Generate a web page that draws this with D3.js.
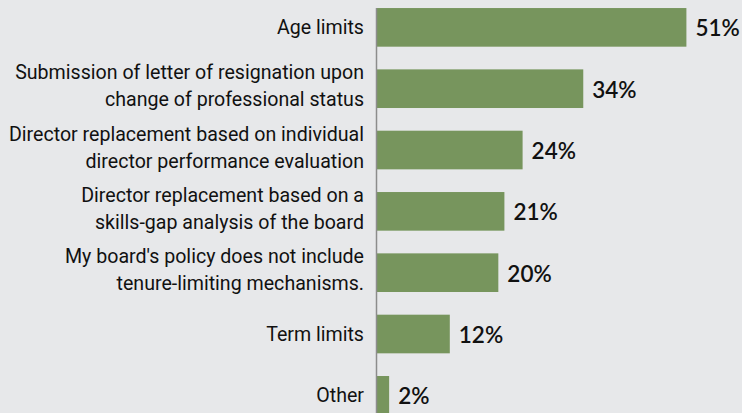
<!DOCTYPE html>
<html>
<head>
<meta charset="utf-8">
<script src="https://cdn.jsdelivr.net/npm/d3@7"></script>
<style>
  html, body { margin: 0; padding: 0; background: #e7e8ea; }
  svg { display: block; }
</style>
</head>
<body>
<svg id="chart"></svg>
<script>
// survey answers, top to bottom
const categories = [
  "Age limits",
  "Submission of letter of resignation upon\nchange of professional status",
  "Director replacement based on individual\ndirector performance evaluation",
  "Director replacement based on a\nskills-gap analysis of the board",
  "My board's policy does not include\ntenure-limiting mechanisms.",
  "Term limits",
  "Other"
];
const values = [51, 34, 24, 21, 20, 12, 2];

const width = 742, height = 413;
const barLeft = 377;

const svg = d3.select("#chart")
    .attr("width", width)
    .attr("height", height);

svg.append("rect")
    .attr("width", width)
    .attr("height", height)
    .attr("fill", "#e7e8ea");

const xScale = d3.scaleLinear()
    .domain([0, 60])
    .range([barLeft, 741]);

const yScale = d3.scaleBand()
    .domain(categories)
    .range([-3.3, 426])
    .paddingInner(0.37)
    .paddingOuter(0.185);

const data = categories.map((c, i) => ({ cat: c, value: values[i] }));

// bars
svg.selectAll(".bar")
    .data(data)
  .join("rect")
    .attr("class", "bar")
    .attr("x", xScale(0))
    .attr("y", d => yScale(d.cat))
    .attr("width", d => xScale(d.value) - xScale(0))
    .attr("height", yScale.bandwidth())
    .attr("fill", "#77955d");

// axis line
svg.append("line")
    .attr("x1", barLeft - 0.5)
    .attr("x2", barLeft - 0.5)
    .attr("y1", yScale(categories[0]))
    .attr("y2", height)
    .attr("stroke", "#8c8c8c")
    .attr("stroke-width", 1.5);

// category labels
const lineH = 27;
const labels = svg.selectAll(".cat")
    .data(data)
  .join("text")
    .attr("class", "cat")
    .attr("text-anchor", "end")
    .style("font-family", "Roboto, 'Liberation Sans', sans-serif")
    .style("font-size", "19.6px")
    .attr("fill", "#111");

labels.each(function(d) {
  const lines = d.cat.split("\n");
  const n = lines.length;
  const cy = yScale(d.cat) + yScale.bandwidth() / 2;
  d3.select(this).selectAll("tspan")
      .data(lines)
    .join("tspan")
      .attr("x", 364)
      .attr("y", (l, i) => cy + 7 + (i - (n - 1) / 2) * lineH - (n > 1 ? 3 : 0))
      .text(l => l);
});

// value labels
svg.selectAll(".val")
    .data(data)
  .join("text")
    .attr("class", "val")
    .attr("x", d => xScale(d.value) + 9)
    .attr("y", d => yScale(d.cat) + yScale.bandwidth() / 2 + 9)
    .style("font-family", "Lato, sans-serif")
    .style("font-weight", "600")
    .style("font-size", "22.5px")
    .attr("fill", "#111")
    .text(d => d.value + "%");
</script>
</body>
</html>
